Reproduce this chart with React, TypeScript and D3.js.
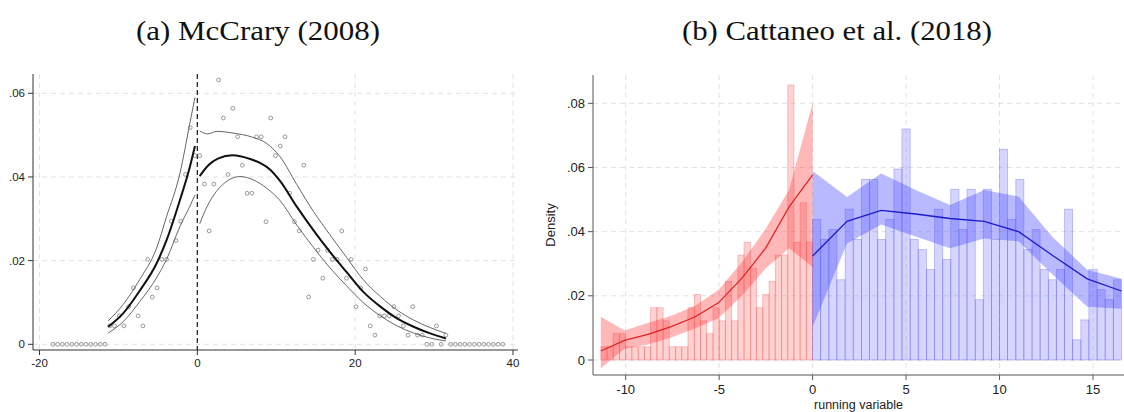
import React from "react";
import * as d3 from "d3";

// ---------- panel (a): McCrary (2008) ----------
// bin centres and bin densities (hollow circles)
const mcBinX = [
  -18.3, -17.7, -17.1, -16.5, -15.9, -15.3, -14.7, -14.1, -13.5, -12.9, -12.3, -11.7,
  -11.1, -10.5, -9.9, -9.3, -8.7, -8.1, -7.5, -6.9, -6.3, -5.7, -5.1, -4.5, -3.9, -3.3,
  -2.7, -2.1, -1.5, -0.9, -0.3,
  0.3, 0.9, 1.5, 2.1, 2.7, 3.3, 3.9, 4.5, 5.1, 5.7, 6.3, 6.9, 7.5, 8.1, 8.7, 9.3, 9.9,
  10.5, 11.1, 11.7, 12.3, 12.9, 13.5, 14.1, 14.7, 15.3, 15.9, 16.5, 17.1, 17.7, 18.3,
  18.9, 19.5, 20.1, 20.7, 21.3, 21.9, 22.5, 23.1, 23.7, 24.3, 24.9, 25.5, 26.1, 26.7,
  27.3, 27.9, 28.5, 29.1, 29.7, 30.3, 30.9, 31.5,
  32.1, 32.7, 33.3, 33.9, 34.5, 35.1, 35.7, 36.3, 36.9, 37.5, 38.1, 38.7,
];
const mcDensity = [
  0, 0, 0, 0, 0, 0, 0, 0, 0, 0, 0, 0,
  0.0044, 0.0044, 0.0068, 0.0044, 0.009, 0.0135, 0.0068, 0.0044, 0.0203, 0.0113, 0.0135,
  0.0203, 0.0203, 0.0294, 0.0248, 0.0294, 0.0406, 0.0518, 0.0451,
  0.0451, 0.0383, 0.0271, 0.0383, 0.0632, 0.0541, 0.0406, 0.0564, 0.0496, 0.0428, 0.0361,
  0.0361, 0.0496, 0.0496, 0.0293, 0.0541, 0.0451, 0.0474, 0.0496, 0.0361, 0.0293, 0.0271,
  0.0428, 0.0113, 0.0203, 0.0225, 0.0158, 0.0225, 0.0203, 0.0203, 0.0271, 0.0158, 0.0203,
  0.009, 0.0135, 0.018, 0.0044, 0.0022, 0.0068, 0.0068, 0.0068, 0.009, 0.0068, 0.0044,
  0.0022, 0.009, 0.0022, 0.0022, 0, 0, 0.0044, 0, 0.0022,
  0, 0, 0, 0, 0, 0, 0, 0, 0, 0, 0, 0,
];

// fitted density and confidence bounds, left of cutoff
const mcLeftFit = [[-11.3, 0.0042], [-9.4, 0.0074], [-7.3, 0.0128], [-5.2, 0.0192], [-3.9, 0.0249], [-2.2, 0.0345], [-0.95, 0.0424], [-0.3, 0.0474]];
const mcLeftHi = [[-11.3, 0.0056], [-9.4, 0.0095], [-7.3, 0.0155], [-5.2, 0.0228], [-3.9, 0.0305], [-2.2, 0.0409], [-0.95, 0.0528], [-0.3, 0.059]];
const mcLeftLo = [[-11.3, 0.0027], [-9.4, 0.0054], [-7.3, 0.0102], [-5.2, 0.0158], [-3.9, 0.0203], [-2.2, 0.0282], [-0.95, 0.033], [-0.3, 0.0357]];
// right of cutoff
const mcRightFit = [[0.3, 0.0402], [1.4, 0.0428], [2.6, 0.0444], [4.5, 0.0452], [6.7, 0.0443], [8.0, 0.0433], [9.2, 0.0418], [10.5, 0.039], [12.6, 0.0329], [14.7, 0.0273], [16.8, 0.0221], [18.9, 0.0173], [21.0, 0.0126], [23.2, 0.009], [25.3, 0.0062], [27.4, 0.0042], [29.5, 0.0026], [31.5, 0.0014]];
const mcRightHi = [[0.3, 0.051], [1.3, 0.0503], [2.5, 0.0509], [4.5, 0.0505], [7.0, 0.0495], [8.8, 0.048], [10.5, 0.0448], [12.6, 0.0382], [14.7, 0.0318], [16.8, 0.0262], [18.9, 0.0208], [21.0, 0.0155], [23.2, 0.0114], [25.3, 0.0082], [27.4, 0.0058], [29.5, 0.004], [31.5, 0.0026]];
const mcRightLo = [[0.3, 0.0288], [1.3, 0.0332], [2.4, 0.0365], [4.0, 0.0393], [5.4, 0.0401], [7.1, 0.0393], [8.8, 0.0373], [10.5, 0.0343], [12.6, 0.0285], [14.7, 0.0232], [16.8, 0.0183], [18.9, 0.014], [21.0, 0.01], [23.2, 0.0068], [25.3, 0.0044], [27.4, 0.0027], [29.5, 0.0015], [31.5, 0.0008]];

const aXTicks = [-20, 0, 20, 40];
const aYTicks = [0, 0.02, 0.04, 0.06];
const aYLabels = ["0", ".02", ".04", ".06"];

// ---------- panel (b): Cattaneo et al. (2018) ----------
const redBinEdges = [
  -11.33, -11.0, -10.67, -10.33, -10.0, -9.67, -9.33, -9.0, -8.67, -8.33, -8.0, -7.67,
  -7.33, -7.0, -6.67, -6.33, -6.0, -5.67, -5.33, -5.0, -4.67, -4.33, -4.0, -3.67, -3.33,
  -3.0, -2.67, -2.33, -2.0, -1.67, -1.33, -1.0, -0.67, -0.33,
];
const redBinEnd = 0;
const redDensity = [
  0.0041, 0.0041, 0.0082, 0.0082, 0.0041, 0.0041, 0.0041, 0.0041, 0.0163, 0.0163, 0.0122,
  0.0041, 0.0041, 0.0041, 0.0163, 0.0204, 0.0122, 0.0082, 0.0163, 0.0122, 0.0245, 0.0122,
  0.0327, 0.0367, 0.0286, 0.0163, 0.0204, 0.0245, 0.0327, 0.0327, 0.0857, 0.0367, 0.049,
  0.0367,
];
const blueBinEdges = [
  0, 0.43, 0.87, 1.3, 1.74, 2.17, 2.61, 3.04, 3.48, 3.91, 4.35, 4.78, 5.22, 5.65, 6.09,
  6.52, 6.96, 7.39, 7.83, 8.26, 8.7, 9.13, 9.57, 10.0, 10.43, 10.87, 11.3, 11.74, 12.17,
  12.61, 13.04, 13.48, 13.91, 14.35, 14.78, 15.22, 15.65, 16.09,
];
const blueBinEnd = 16.52;
const blueDensity = [
  0.0438, 0.0376, 0.0407, 0.025, 0.047, 0.0376, 0.0563, 0.0563, 0.0376, 0.0438, 0.0595,
  0.072, 0.0376, 0.0344, 0.0282, 0.047, 0.0313, 0.0532, 0.0407, 0.0532, 0.0188, 0.0532,
  0.0376, 0.0657, 0.0438, 0.0563, 0.0344, 0.0407, 0.0282, 0.025, 0.0282, 0.047, 0.0063,
  0.0125, 0.0282, 0.0219, 0.0188, 0.025,
];

const redGridX = [-11.33, -10.07, -8.81, -7.56, -6.3, -5.04, -3.78, -2.52, -1.26, 0];
const redFit = [0.0028, 0.0061, 0.008, 0.0104, 0.0134, 0.0178, 0.0255, 0.0348, 0.0477, 0.0577];
const redHi = [0.0135, 0.0092, 0.0115, 0.0138, 0.0168, 0.0218, 0.0305, 0.0408, 0.053, 0.08];
const redLo = [-0.0026, 0.0035, 0.0048, 0.007, 0.0098, 0.013, 0.02, 0.0285, 0.0348, 0.029];

const blueGridX = [0, 1.84, 3.67, 5.51, 7.35, 9.18, 11.02, 12.86, 14.69, 16.52];
const blueFit = [0.0324, 0.0432, 0.0466, 0.0455, 0.0441, 0.0432, 0.04, 0.0325, 0.0253, 0.0215];
const blueHi = [0.0589, 0.0508, 0.0581, 0.053, 0.0483, 0.053, 0.0509, 0.0382, 0.0281, 0.0253];
const blueLo = [0.0104, 0.0363, 0.0422, 0.0385, 0.0348, 0.0379, 0.037, 0.0265, 0.0166, 0.016];

const bXTicks = [-10, -5, 0, 5, 10, 15];
const bYTicks = [0, 0.02, 0.04, 0.06, 0.08];
const bYLabels = ["0", ".02", ".04", ".06", ".08"];

const GRID = "#e2e2e2";
const SANS = "'Liberation Sans', Arial, sans-serif";
const SERIF = "'Liberation Serif', 'Times New Roman', serif";

const McCrary = () => {
  const x = d3.scaleLinear().domain([-20, 40]).range([39.5, 513]);
  const y = d3.scaleLinear().domain([0, 0.06]).range([344.3, 93.3]);
  const left = 33, bottom = 350, top = 74, right = 518;
  const line = d3.line<number[]>().x(d => x(d[0])).y(d => y(d[1])).curve(d3.curveMonotoneX);

  return (
    <g>
      {aYTicks.map(t => (
        <line key={"gy" + t} x1={left} x2={right} y1={y(t)} y2={y(t)} stroke={GRID} strokeDasharray="5,4" />
      ))}
      {aXTicks.filter(t => t !== 0).map(t => (
        <line key={"gx" + t} x1={x(t)} x2={x(t)} y1={top} y2={bottom} stroke={GRID} strokeDasharray="5,4" />
      ))}
      <line x1={x(0)} x2={x(0)} y1={top} y2={bottom} stroke="#222" strokeWidth={1.3} strokeDasharray="5,3" />
      {mcBinX.map((bx, i) => (
        <circle key={"p" + i} cx={x(bx)} cy={y(mcDensity[i])} r={1.9} fill="none" stroke="#808080" strokeWidth={0.8} />
      ))}
      {[mcLeftHi, mcLeftLo, mcRightHi, mcRightLo].map((d, i) => (
        <path key={"ci" + i} d={line(d) || ""} fill="none" stroke="#555" strokeWidth={0.9} />
      ))}
      {[mcLeftFit, mcRightFit].map((d, i) => (
        <path key={"fit" + i} d={line(d) || ""} fill="none" stroke="#111" strokeWidth={2} />
      ))}
      <line x1={left} x2={left} y1={top} y2={bottom} stroke="#333" />
      <line x1={left} x2={right} y1={bottom} y2={bottom} stroke="#333" />
      {aYTicks.map((t, i) => (
        <g key={"ty" + t}>
          <line x1={left - 5} x2={left} y1={y(t)} y2={y(t)} stroke="#333" />
          <text x={left - 8} y={y(t) + 4} textAnchor="end" fontSize={11.5} fontFamily={SANS} fill="#222">{aYLabels[i]}</text>
        </g>
      ))}
      {aXTicks.map(t => (
        <g key={"tx" + t}>
          <line x1={x(t)} x2={x(t)} y1={bottom} y2={bottom + 5} stroke="#333" />
          <text x={x(t)} y={366.5} textAnchor="middle" fontSize={11.5} fontFamily={SANS} fill="#222">{t}</text>
        </g>
      ))}
    </g>
  );
};

const Cattaneo = () => {
  const x = d3.scaleLinear().domain([-10, 15]).range([625.7, 1093]);
  const y = d3.scaleLinear().domain([0, 0.08]).range([360, 103.3]);
  const left = 593, bottom = 375, top = 75, right = 1124;
  const band = (gx: number[], lo: number[], hi: number[]) =>
    d3.area<number>().x(i => x(gx[i])).y0(i => y(lo[i])).y1(i => y(hi[i]))(d3.range(gx.length)) || "";
  const fit = (gx: number[], f: number[]) =>
    d3.line<number>().x(i => x(gx[i])).y(i => y(f[i]))(d3.range(gx.length)) || "";

  return (
    <g>
      {bYTicks.map(t => (
        <line key={"gy" + t} x1={left} x2={right} y1={y(t)} y2={y(t)} stroke={GRID} strokeDasharray="5,4" />
      ))}
      {bXTicks.map(t => (
        <line key={"gx" + t} x1={x(t)} x2={x(t)} y1={top} y2={bottom} stroke={GRID} strokeDasharray="5,4" />
      ))}
      {redBinEdges.map((e, i) => {
        const e2 = i < redBinEdges.length - 1 ? redBinEdges[i + 1] : redBinEnd;
        return (
          <rect key={"r" + i} x={x(e)} width={x(e2) - x(e)} y={y(redDensity[i])} height={y(0) - y(redDensity[i])}
            fill="rgba(255,90,90,0.27)" stroke="rgba(235,70,70,0.35)" strokeWidth={0.8} />
        );
      })}
      {blueBinEdges.map((e, i) => {
        const e2 = i < blueBinEdges.length - 1 ? blueBinEdges[i + 1] : blueBinEnd;
        return (
          <rect key={"b" + i} x={x(e)} width={x(e2) - x(e)} y={y(blueDensity[i])} height={y(0) - y(blueDensity[i])}
            fill="rgba(100,100,255,0.27)" stroke="rgba(70,70,235,0.35)" strokeWidth={0.8} />
        );
      })}
      <path d={band(redGridX, redLo, redHi)} fill="rgba(255,50,50,0.35)" />
      <path d={band(blueGridX, blueLo, blueHi)} fill="rgba(70,70,255,0.38)" />
      <path d={fit(redGridX, redFit)} fill="none" stroke="#dd2222" strokeWidth={1.2} />
      <path d={fit(blueGridX, blueFit)} fill="none" stroke="#1c1ccc" strokeWidth={1.3} />
      <line x1={left} x2={left} y1={top} y2={bottom} stroke="#555" />
      <line x1={left} x2={right} y1={bottom} y2={bottom} stroke="#555" />
      {bYTicks.map((t, i) => (
        <g key={"ty" + t}>
          <line x1={left - 5} x2={left} y1={y(t)} y2={y(t)} stroke="#555" />
          <text x={left - 8} y={y(t) + 4.5} textAnchor="end" fontSize={13} fontFamily={SANS} fill="#222">{bYLabels[i]}</text>
        </g>
      ))}
      {bXTicks.map(t => (
        <g key={"tx" + t}>
          <line x1={x(t)} x2={x(t)} y1={bottom} y2={bottom + 5} stroke="#555" />
          <text x={x(t)} y={393.5} textAnchor="middle" fontSize={13} fontFamily={SANS} fill="#222">{t}</text>
        </g>
      ))}
      <text transform="translate(555,225) rotate(-90)" textAnchor="middle" fontSize={13} fontFamily={SANS} fill="#222">Density</text>
      <text x={(left + right) / 2} y={408.5} textAnchor="middle" fontSize={12.5} fontFamily={SANS} fill="#222">running variable</text>
    </g>
  );
};

export default function App() {
  return (
    <svg width={1124} height={412} style={{ position: "absolute", left: 0, top: 0, background: "#fff" }}>
      <rect width={1124} height={412} fill="#fff" />
      <text x={258} y={40} textAnchor="middle" fontSize={28} fontFamily={SERIF} fill="#111"
        textLength={244} lengthAdjust="spacingAndGlyphs">(a) McCrary (2008)</text>
      <text x={837} y={40} textAnchor="middle" fontSize={28} fontFamily={SERIF} fill="#111"
        textLength={310} lengthAdjust="spacingAndGlyphs">(b) Cattaneo et al. (2018)</text>
      <McCrary />
      <Cattaneo />
    </svg>
  );
}
